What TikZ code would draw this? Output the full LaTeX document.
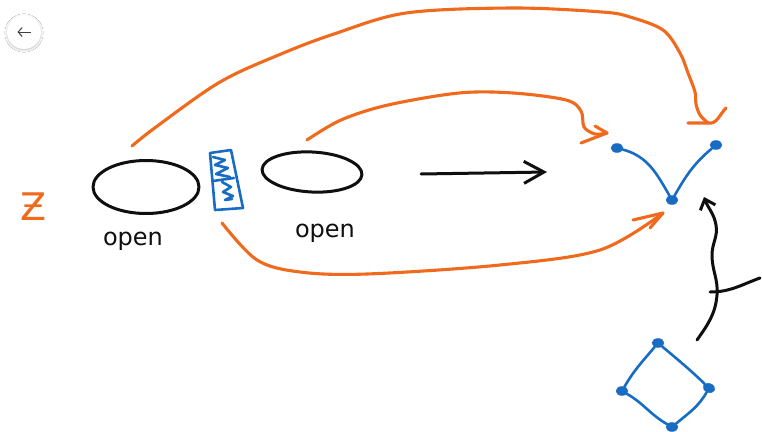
\documentclass[tikz,border=0pt]{standalone}
\usepackage{fontspec}
\setmainfont{DejaVu Sans}
\usetikzlibrary{arrows.meta,shadows.blur,shapes.geometric}
\definecolor{ink}{RGB}{15,15,15}
\definecolor{orng}{RGB}{240,106,30}
\definecolor{blu}{RGB}{24,108,196}
\tikzset{
  pen/.style={line width=3pt,line cap=round,line join=round},
  inkpen/.style={pen,draw=ink},
  orpen/.style={pen,draw=orng,line width=3.1pt},
  blpen/.style={pen,draw=blu,line width=2.6pt},
  blob/.style={ellipse,fill=blu,draw=blu,inner sep=0pt,minimum width=12pt,minimum height=9pt},
  loop/.style={inkpen,ellipse,inner sep=0pt},
  word/.style={font=\fontsize{24}{26}\selectfont,text=ink},
}
\begin{document}
\begin{tikzpicture}[x=1pt,y=-1pt]
\useasboundingbox[fill=white] (0,0) rectangle (762,431);

% back button
\node[circle,fill=white,minimum size=34pt,blur shadow={shadow blur steps=6,shadow xshift=0pt,shadow yshift=-1pt,shadow opacity=25}] (back) at (24,32) {};
\draw[line width=1pt,draw=black!75,-{Straight Barb[length=4pt,width=9pt]}] (30.5,32) -- (17.5,32);

% the letter on the left
\node[text=orng,font=\fontsize{38}{40}\selectfont] (zee) at (34,207) {Ƶ};

% the two open sets
\node[loop,minimum width=106pt,minimum height=53pt] (u1) at (146,187) {};
\node[word] (l1) at (133,241) {open};
\node[loop,minimum width=100pt,minimum height=40pt,rotate=-3] (u2) at (312,172) {};
\node[word] (l2) at (325,233) {open};

% blue hatched strip between them
\draw[blpen] (210,153) -- (231,150) -- (243,208) -- (215,210) -- cycle;
\draw[blpen] (213,157) -- (225,160) -- (215,165) -- (228,168) -- (216,174) -- (230,177);
\draw[blpen] (213,181) -- (234,178);
\draw[blpen] (222,182) -- (231,187) -- (223,192) -- (233,196) -- (225,200) -- (232,199);

% black arrow between the sets
\coordinate (a0) at (421,174);
\coordinate (a1) at (547,172);
\draw[inkpen,-{Straight Barb[length=20pt,width=22pt,line width=3pt]}] (a0) -- (a1);

% the target graph
\node[blob] (p) at (617,148) {};
\node[blob] (q) at (716,145) {};
\node[blob] (r) at (672,200) {};
\draw[blpen] (p) to[out=-15,in=120] (r);
\draw[blpen] (q) to[out=-140,in=60] (r);

% the source graph
\node[blob] (s1) at (658,343) {};
\node[blob] (s2) at (622,391) {};
\node[blob,rotate=-20] (s3) at (709,388) {};
\node[blob] (s4) at (672,427) {};
\draw[blpen] (s1) to[out=-130,in=60] (s2);
\draw[blpen] (s1) to[out=-40,in=140] (s3);
\draw[blpen] (s2) to[out=-30,in=150] (s4);
\draw[blpen] (s3) to[out=-115,in=40] (s4);

% wavy map from the source up to the target, crossed out
\coordinate (w0) at (697,340);
\coordinate (w1) at (704,197);
\draw[inkpen,-{Straight Barb[length=9pt,width=16pt,line width=3pt]}] (w0) to[out=55,in=-95] (717,295) to[out=85,in=-90] (712,255) to[out=90,in=-80] (716,225) to[out=100,in=-70] (w1);
\coordinate (x0) at (710,292);
\coordinate (x1) at (760,278);
\draw[inkpen] (x0) to[out=0,in=-160] (x1);

% orange curve from the first set to the right dot
\coordinate (c1) at (708,123);
\draw[orpen] plot[smooth,tension=0.55] coordinates {(132,146) (156,127) (220,82) (281,54) (334,34) (406,13) (513,8) (602,12) (630,17) (663,30) (680,53) (688,73) (695,92) (696,104) (700,115) (c1)};
\draw[orpen] (688,123) -- (c1) to[out=-10,in=-135] (726,108);

% orange curve from the second set to the left dot
\coordinate (c2) at (607,133);
\draw[orpen] plot[smooth,tension=0.55] coordinates {(307,140) (341,120) (388,105) (459,93) (513,93) (566,100) (581,111) (584,127) (595,134) (c2)};
\draw[orpen] (581,143) -- (c2) -- (595,126);

% orange curve from the strip to the bottom dot
\coordinate (c3) at (663,213);
\draw[orpen] plot[smooth,tension=0.55] coordinates {(222,223) (257,260) (300,272) (367,274) (500,265) (600,250) (c3)};
\draw[orpen] (633,220) -- (c3) -- (650,228);
\end{tikzpicture}
\end{document}
